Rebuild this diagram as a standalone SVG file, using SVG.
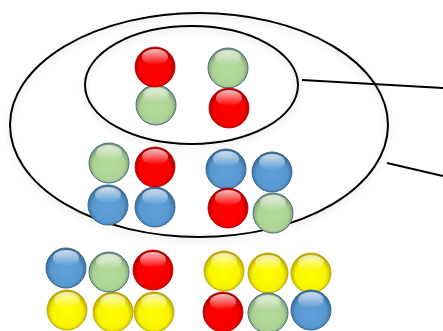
<svg xmlns="http://www.w3.org/2000/svg" width="443" height="331" viewBox="0 0 443 331">
<defs>
<radialGradient id="gR" cx="50%" cy="55%" r="55%"><stop offset="0" stop-color="#ff0000"/><stop offset="0.7" stop-color="#f80000"/><stop offset="1" stop-color="#a00000"/></radialGradient>
<radialGradient id="gG" cx="50%" cy="55%" r="55%"><stop offset="0" stop-color="#b4da9c"/><stop offset="0.7" stop-color="#acd294"/><stop offset="1" stop-color="#6f8f6a"/></radialGradient>
<radialGradient id="gB" cx="50%" cy="55%" r="55%"><stop offset="0" stop-color="#5fa0d8"/><stop offset="0.7" stop-color="#5898d0"/><stop offset="1" stop-color="#33628f"/></radialGradient>
<radialGradient id="gY" cx="50%" cy="55%" r="55%"><stop offset="0" stop-color="#ffff00"/><stop offset="0.7" stop-color="#f8f400"/><stop offset="1" stop-color="#b09a00"/></radialGradient>
<linearGradient id="hl" x1="0" y1="0" x2="0" y2="1"><stop offset="0" stop-color="#fff" stop-opacity="0.75"/><stop offset="1" stop-color="#fff" stop-opacity="0"/></linearGradient>
<filter id="sh" x="-10%" y="-10%" width="120%" height="125%"><feGaussianBlur in="SourceAlpha" stdDeviation="3"/><feOffset dy="3"/><feComponentTransfer><feFuncA type="linear" slope="0.15"/></feComponentTransfer><feMerge><feMergeNode/><feMergeNode in="SourceGraphic"/></feMerge></filter>
<g id="hi"><ellipse cx="0" cy="-10" rx="13" ry="8" fill="url(#hl)"/></g>
</defs>
<style>
.r{fill:url(#gR);stroke:#b00000;stroke-width:0.8}
.g{fill:url(#gG);stroke:#4d6f86;stroke-width:1}
.b{fill:url(#gB);stroke:#3a6a92;stroke-width:1}
.y{fill:url(#gY);stroke:#b8a000;stroke-width:0.8}
.ring{fill:none;stroke:#000;stroke-width:2;filter:url(#sh)}
.ln{stroke:#000;stroke-width:2;fill:none}
</style>
<rect width="443" height="331" fill="#fff"/>
<g id="outer-set"><ellipse class="ring" cx="199" cy="125" rx="189" ry="112"/></g>
<g id="inner-set"><ellipse class="ring" cx="191.5" cy="85" rx="106.5" ry="59"/></g>
<g id="connectors">
<line class="ln" x1="302" y1="80" x2="443" y2="88"/>
<line class="ln" x1="387" y1="163" x2="443" y2="176"/>
</g>
<g id="inner-balls">
<g transform="translate(156,105)"><circle class="g" r="20"/><use href="#hi"/></g>
<g transform="translate(155,67)"><circle class="r" r="20"/><use href="#hi"/></g>
<g transform="translate(228,68)"><circle class="g" r="20"/><use href="#hi"/></g>
<g transform="translate(229,108)"><circle class="r" r="20"/><use href="#hi"/></g>
</g>
<g id="middle-left">
<g transform="translate(108,205)"><circle class="b" r="20"/><use href="#hi"/></g>
<g transform="translate(155,207)"><circle class="b" r="20"/><use href="#hi"/></g>
<g transform="translate(109,163)"><circle class="g" r="20"/><use href="#hi"/></g>
<g transform="translate(155,167)"><circle class="r" r="20"/><use href="#hi"/></g>
</g>
<g id="middle-right">
<g transform="translate(226,169)"><circle class="b" r="20"/><use href="#hi"/></g>
<g transform="translate(272,172)"><circle class="b" r="20"/><use href="#hi"/></g>
<g transform="translate(228,208)"><circle class="r" r="20"/><use href="#hi"/></g>
<g transform="translate(273,213)"><circle class="g" r="20"/><use href="#hi"/></g>
</g>
<g id="bottom-left">
<g transform="translate(67,310)"><circle class="y" r="20"/><use href="#hi"/></g>
<g transform="translate(113,312)"><circle class="y" r="20"/><use href="#hi"/></g>
<g transform="translate(154,312)"><circle class="y" r="20"/><use href="#hi"/></g>
<g transform="translate(66,268)"><circle class="b" r="20"/><use href="#hi"/></g>
<g transform="translate(109,272)"><circle class="g" r="20"/><use href="#hi"/></g>
<g transform="translate(153,270)"><circle class="r" r="20"/><use href="#hi"/></g>
</g>
<g id="bottom-right">
<g transform="translate(224,271)"><circle class="y" r="20"/><use href="#hi"/></g>
<g transform="translate(268,273)"><circle class="y" r="20"/><use href="#hi"/></g>
<g transform="translate(311,273)"><circle class="y" r="20"/><use href="#hi"/></g>
<g transform="translate(223,312)"><circle class="r" r="20"/><use href="#hi"/></g>
<g transform="translate(268,313)"><circle class="g" r="20"/><use href="#hi"/></g>
<g transform="translate(311,310)"><circle class="b" r="20"/><use href="#hi"/></g>
</g>
</svg>
